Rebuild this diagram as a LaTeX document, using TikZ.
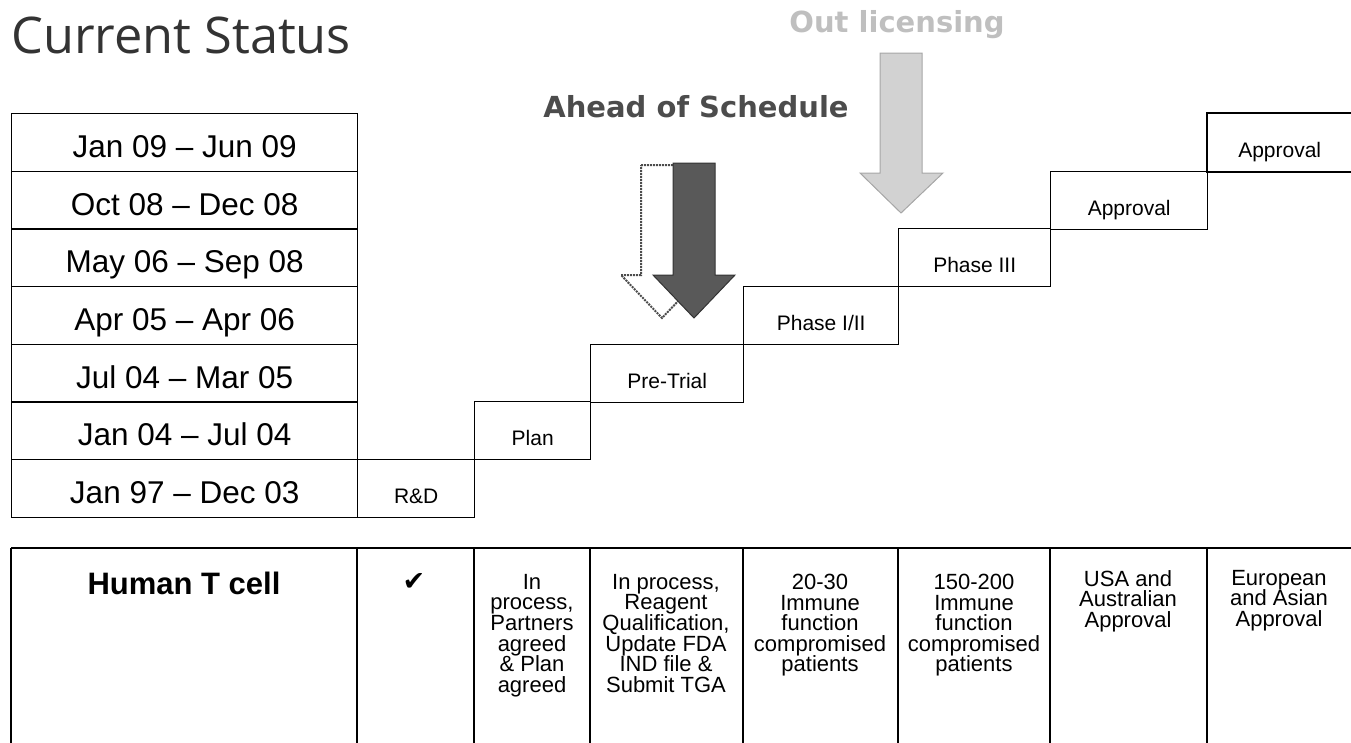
\documentclass[tikz,border=0pt]{standalone}
\usepackage{fontspec}
\setmainfont{Liberation Sans}
\newfontfamily\titlefont{Open Sans}
\newfontfamily\bannerfont{DejaVu Sans}
\usetikzlibrary{positioning}

\begin{document}
\begin{tikzpicture}[x=1pt, y=-1pt,
    datecell/.style={rectangle, draw, line width=1.4pt, anchor=north west,
        minimum width=346pt, minimum height=57.7pt, inner sep=0pt,
        font=\fontsize{31.5}{33}\selectfont, text height=30pt, text depth=0pt},
    stepbox/.style={rectangle, draw, line width=1.4pt, anchor=north west,
        minimum height=57.7pt, inner sep=0pt,
        font=\fontsize{21}{23}\selectfont, text height=30pt, text depth=0pt},
    cell/.style={anchor=north, align=center, inner sep=0pt,
        font=\fontsize{22}{20.6}\selectfont},
    grid/.style={line width=1.4pt},
    banner/.style={inner sep=0pt, anchor=base, font=\bannerfont\bfseries\fontsize{29}{30}\selectfont}
]
    \useasboundingbox (0,0) rectangle (1351,742);

    % headings
    \node[inner sep=0pt, anchor=west, text=black!80,
        font=\titlefont\fontsize{50.5}{52}\selectfont] (title) at (11,35) {Current Status};
    \node[banner, text=black!70] (ahead) at (696,117) {Ahead of Schedule};
    \node[banner, text=gray!50] (outlic) at (897,32) {Out licensing};

    % date column
    \node[datecell] (d7) at (11,113) {Jan 09 – Jun 09};
    \node[datecell] (d6) at (11,171) {Oct 08 – Dec 08};
    \node[datecell] (d5) at (11,228) {May 06 – Sep 08};
    \node[datecell] (d4) at (11,286) {Apr 05 – Apr 06};
    \node[datecell] (d3) at (11,344) {Jul 04 – Mar 05};
    \node[datecell] (d2) at (11,401) {Jan 04 – Jul 04};
    \node[datecell] (d1) at (11,459) {Jan 97 – Dec 03};

    % staircase
    \node[stepbox, minimum width=117pt] (rnd) at (357,459) {R\&D};
    \node[stepbox, minimum width=116pt] (plan) at (474,401) {Plan};
    \node[stepbox, minimum width=153pt] (pretrial) at (590,344) {Pre-Trial};
    \node[stepbox, minimum width=155pt] (phaseI) at (743,286) {Phase I/II};
    \node[stepbox, minimum width=152pt] (phaseIII) at (898,228) {Phase III};
    \node[stepbox, minimum width=157pt] (apprUSA) at (1050,171) {Approval};
    \node[stepbox, draw=none, minimum width=144pt] (apprEU) at (1207,113) {Approval};
    \draw[grid] (apprEU.north east) -- (apprEU.north west)
        -- (apprEU.south west) -- (apprEU.south east);

    % block arrows
    \draw[line width=1pt, draw=gray!70, fill=gray!35]
        (880,53) -- (922,53) -- (922,173) -- (943,173) -- (901,213)
        -- (860,173) -- (880,173) -- cycle;
    \draw[line width=2pt, densely dotted, draw=black!70, fill=white]
        (641,165) -- (683,165) -- (683,275) -- (703,275) -- (662,318)
        -- (621,275) -- (641,275) -- cycle;
    \draw[line width=1pt, draw=black!80, fill=black!65]
        (673,163) -- (715,163) -- (715,275) -- (735,275) -- (694,318)
        -- (653,275) -- (673,275) -- cycle;

    % lower table
    \draw[grid] (11,548) -- (1351,548);
    \draw[grid] (11,548) -- (11,745);
    \draw[grid] (357,548) -- (357,745);
    \draw[grid] (474,548) -- (474,745);
    \draw[grid] (590,548) -- (590,745);
    \draw[grid] (743,548) -- (743,745);
    \draw[grid] (898,548) -- (898,745);
    \draw[grid] (1050,548) -- (1050,745);
    \draw[grid] (1207,548) -- (1207,745);

    \node[cell, font=\bfseries\fontsize{31}{32}\selectfont] (tcell) at (184,572) {Human T cell};
    \node[inner sep=0pt, font=\bannerfont\fontsize{27}{29}\selectfont] (tick) at (414,582) {✔};
    \node[cell] (plantxt) at (532,574) {In\\process,\\Partners\\agreed\\\& Plan\\agreed};
    \node[cell] (pretxt) at (666,574) {In process,\\Reagent\\Qualification,\\Update FDA\\IND file \&\\Submit TGA};
    \node[cell] (p1txt) at (820,574) {20-30\\Immune\\function\\compromised\\patients};
    \node[cell] (p3txt) at (974,574) {150-200\\Immune\\function\\compromised\\patients};
    \node[cell] (usatxt) at (1128,570) {USA and\\Australian\\Approval};
    \node[cell] (eutxt) at (1279,570) {European\\and Asian\\Approval};
\end{tikzpicture}
\end{document}
